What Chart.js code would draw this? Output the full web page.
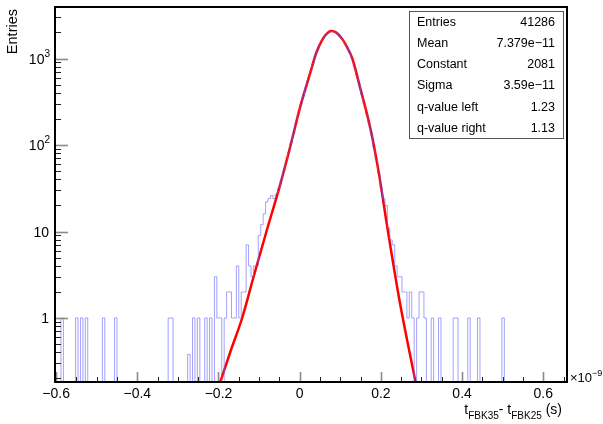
<!DOCTYPE html>
<html>
<head>
<meta charset="utf-8">
<script src="https://cdn.jsdelivr.net/npm/chart.js@4.4.1/dist/chart.umd.min.js"></script>
<style>
body{margin:0;background:#fff;}
#caja{width:603px;height:424px;}
</style>
</head>
<body>
<div id="caja"><canvas id="miGrafica" width="603" height="424"></canvas></div>
<script>
// histogram binning (x in units of 1e-9 s), only the non-empty bins are listed
var binStart = -0.6;
var binWidth = 0.006;
var nBins = 210;
var binIndex = [2,8,10,12,19,24,46,47,54,56,58,61,63,65,66,67,69,70,71,72,73,74,75,76,77,78,79,80,81,82,83,84,85,86,87,88,
  89,90,91,92,93,94,95,96,97,98,99,100,101,102,103,104,105,106,107,108,109,110,111,112,113,114,115,116,117,118,119,120,
  121,122,123,124,125,126,127,128,129,130,131,132,133,134,135,136,137,138,139,140,141,142,143,144,145,146,148,149,150,151,
  154,157,163,164,169,173,183];
var binCount = [1,1,1,1,1,1,1,1,0.38,1,1,1,1,3,1,1,1,2,2,1,1,4,1,2,2,7,4,3,4,4,9,12,16,22,24,26,
  24,27,32,40,50,64,82,106,136,176,229,292,366,457,567,707,875,1093,1285,1474,1685,1838,1953,2055,2060,2012,1928,1800,1675,1502,1350,1165,
  1017,801,631,496,384,298,229,178,133,94,67,47,32,24,20,11,8,7,4,3,3,2,2,1,2,1,1,2,2,1,
  1,1,1,1,1,1,1];

// fit curve
var fitX = [-0.196,-0.1705,-0.1417,-0.1132,-0.0819,-0.0475,-0.0229,0.0017,0.0263,0.0411,0.0558,0.0657,0.077,0.0903,0.105,0.1173,0.1296,0.1493,0.1739,0.1936,0.2175,0.2453,0.2855];
var fitY = [0.18,0.41,1.0,3.04,10.0,35.6,97.4,281,690,1172,1653,1913,2081,1991,1675,1338,1000,452,157,51.6,10,1.65,0.18];

var xTickValues = [-0.6,-0.4,-0.2,0,0.2,0.4,0.6];
var xTickLabels = ["\u22120.6","\u22120.4","\u22120.2","0","0.2","0.4","0.6"];
var yTickValues = [1,10,100,1000];
var yTickBase = ["1","10","10","10"];
var yTickExp = ["","","2","3"];

var statNames = ["Entries","Mean","Constant","Sigma","q-value left","q-value right"];
var statValues = ["41286","7.379e\u221211","2081","3.59e\u221211","1.23","1.13"];

var fuente = "'Liberation Sans', Arial, Helvetica, sans-serif";

function puntosHisto(){
    var cuentas = [];
    for (var i = 0; i < nBins; i++) cuentas.push(0);
    for (var j = 0; j < binIndex.length; j++) cuentas[binIndex[j]] = binCount[j];
    // empty bins go below the visible log range so the steps drop to the axis
    var pts = [];
    for (var i = 0; i < nBins; i++) pts.push({x: binStart + i * binWidth, y: cuentas[i] > 0 ? cuentas[i] : 1e-3});
    pts.push({x: binStart + nBins * binWidth, y: 1e-3});
    return pts;
}

function puntosFit(){
    var pts = [];
    for (var i = 0; i < fitX.length; i++) pts.push({x: fitX[i], y: fitY[i]});
    return pts;
}

var marco = {
    id: "marco",
    afterDraw: function(chart){
        var ctx = chart.ctx, a = chart.chartArea, sx = chart.scales.x, sy = chart.scales.y;
        ctx.save();

        // x ticks (inside the frame)
        for (var k = -12; k <= 13; k++){
            var v = k * 0.05;
            if (v < sx.min || v > sx.max) continue;
            var px = Math.round(sx.getPixelForValue(v)) + 0.5;
            var mayor = (k % 4 === 0);
            ctx.beginPath();
            ctx.strokeStyle = mayor ? "#8a8a8a" : "#222";
            ctx.lineWidth = mayor ? 1.6 : 1;
            ctx.moveTo(px, a.bottom);
            ctx.lineTo(px, a.bottom - (mayor ? 10 : 5));
            ctx.stroke();
        }

        // y ticks, log
        for (var e = -1; e <= 3; e++){
            for (var m = 1; m <= 9; m++){
                var val = m * Math.pow(10, e);
                if (val < sy.min || val > sy.max) continue;
                var py = Math.round(sy.getPixelForValue(val)) + 0.5;
                var may = (m === 1);
                ctx.beginPath();
                ctx.strokeStyle = may ? "#8a8a8a" : "#222";
                ctx.lineWidth = may ? 1.6 : 1;
                ctx.moveTo(a.left, py);
                ctx.lineTo(a.left + (may ? 13 : 6), py);
                ctx.stroke();
            }
        }

        // frame
        ctx.strokeStyle = "#000";
        ctx.lineWidth = 2;
        ctx.strokeRect(a.left, a.top, a.right - a.left, a.bottom - a.top);

        // x labels
        ctx.fillStyle = "#000";
        ctx.font = "14px " + fuente;
        ctx.textAlign = "center";
        ctx.textBaseline = "alphabetic";
        for (var i = 0; i < xTickValues.length; i++){
            ctx.fillText(xTickLabels[i], sx.getPixelForValue(xTickValues[i]), 398);
        }

        // y labels with exponent
        for (var i = 0; i < yTickValues.length; i++){
            var yy = sy.getPixelForValue(yTickValues[i]) + 5;
            var derecha = 50;
            ctx.textAlign = "right";
            if (yTickExp[i] !== ""){
                ctx.font = "10px " + fuente;
                var we = ctx.measureText(yTickExp[i]).width;
                ctx.fillText(yTickExp[i], derecha, yy - 7);
                derecha -= we;
            } else {
                derecha -= 1;
            }
            ctx.font = "14px " + fuente;
            ctx.fillText(yTickBase[i], derecha, yy);
        }

        // x10^-9
        ctx.textAlign = "left";
        ctx.font = "13px " + fuente;
        ctx.fillText("\u00d710", 570, 382);
        var wx = ctx.measureText("\u00d710").width;
        ctx.font = "9px " + fuente;
        ctx.fillText("\u22129", 570 + wx, 376);

        // x title: t_FBK35- t_FBK25 (s)
        var trozos = [["t",0],["FBK35",1],["- t",0],["FBK25",1],[" (s)",0]];
        var total = 0;
        for (var i = 0; i < trozos.length; i++){
            ctx.font = (trozos[i][1] ? "10px " : "14px ") + fuente;
            total += ctx.measureText(trozos[i][0]).width;
        }
        var xx = 562 - total;
        for (var i = 0; i < trozos.length; i++){
            ctx.font = (trozos[i][1] ? "10px " : "14px ") + fuente;
            ctx.fillText(trozos[i][0], xx, trozos[i][1] ? 419 : 414);
            xx += ctx.measureText(trozos[i][0]).width;
        }

        // y title
        ctx.save();
        ctx.translate(13, 9);
        ctx.rotate(-Math.PI / 2);
        ctx.font = "14.5px " + fuente;
        ctx.textAlign = "right";
        ctx.textBaseline = "middle";
        ctx.fillText("Entries", 0, 0);
        ctx.restore();

        // stats box
        ctx.fillStyle = "#fff";
        ctx.fillRect(409.5, 11.5, 154, 127);
        ctx.strokeStyle = "#555";
        ctx.lineWidth = 1;
        ctx.strokeRect(409.5, 11.5, 154, 127);
        ctx.fillStyle = "#000";
        ctx.font = "12.5px " + fuente;
        ctx.textBaseline = "middle";
        for (var i = 0; i < statNames.length; i++){
            var fy = 22.7 + i * 21.1;
            ctx.textAlign = "left";
            ctx.fillText(statNames[i], 417, fy);
            ctx.textAlign = "right";
            ctx.fillText(statValues[i], 555, fy);
        }
        ctx.restore();
    }
};

function graficaHisto(){
    var miCanvas = document.getElementById("miGrafica").getContext("2d");
    var chart = new Chart(miCanvas, {
        type: "line",
        data: {
            datasets: [{
                label: "histo",
                data: puntosHisto(),
                stepped: "before",
                borderColor: "rgba(100,100,255,0.6)",
                borderWidth: 1,
                pointRadius: 0,
                fill: false
            }, {
                label: "fit",
                data: puntosFit(),
                borderColor: "#ff0000",
                borderWidth: 2.5,
                pointRadius: 0,
                cubicInterpolationMode: "monotone",
                fill: false
            }]
        },
        options: {
            responsive: false,
            animation: false,
            layout: {padding: {left: 55, right: 36, top: 7, bottom: 42}},
            plugins: {legend: {display: false}, tooltip: {enabled: false}},
            scales: {
                x: {type: "linear", min: -0.6027, max: 0.6584, display: false},
                y: {type: "logarithmic", min: 0.182, max: 3940, display: false}
            }
        },
        plugins: [marco]
    });
}

document.addEventListener("DOMContentLoaded", function(){
    graficaHisto();
});
</script>
</body>
</html>
